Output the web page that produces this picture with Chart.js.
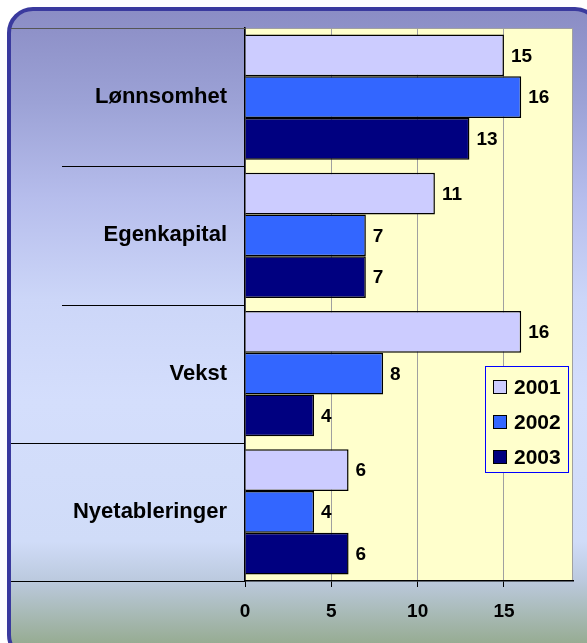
<!DOCTYPE html>
<html>
<head>
<meta charset="utf-8">
<script src="https://cdn.jsdelivr.net/npm/chart.js@4"></script>
<style>
  html, body { margin: 0; padding: 0; background: #fff; }
  #wrap { width: 587px; height: 643px; }
</style>
</head>
<body>
<div id="wrap"><canvas id="myChart" width="587" height="643"></canvas></div>
<script>
const categories = ['Lønnsomhet', 'Egenkapital', 'Vekst', 'Nyetableringer'];
const years = ['2001', '2002', '2003'];
const values2001 = [15, 11, 16, 6];
const values2002 = [16, 7, 8, 4];
const values2003 = [13, 7, 4, 6];
const xTicks = [0, 5, 10, 15];
const colors = ['#ccccff', '#3366ff', '#000080'];

const FONT = '"Liberation Sans", Arial, sans-serif';

// frame, gradient background and yellow plot area
const backdrop = {
    id: 'backdrop',
    beforeDraw(chart) {
        const c = chart.ctx;
        const a = chart.chartArea;
        c.save();
        const g = c.createLinearGradient(0, 7, 0, 643);
        g.addColorStop(0.0, '#8a8cc4');
        g.addColorStop(0.15, '#9ca2d6');
        g.addColorStop(0.30, '#b6bdec');
        g.addColorStop(0.46, '#ccd6f8');
        g.addColorStop(0.62, '#d4defc');
        g.addColorStop(0.84, '#d0dcf8');
        g.addColorStop(0.90, '#bccadf');
        g.addColorStop(1.0, '#97ac93');
        c.beginPath();
        c.roundRect(9, 9, 590, 650, 24);
        c.fillStyle = g;
        c.fill();
        c.lineWidth = 4;
        c.strokeStyle = '#3a3a9e';
        c.stroke();

        c.fillStyle = '#ffffcc';
        c.fillRect(a.left, a.top, a.right - a.left, a.bottom - a.top);
        c.strokeStyle = '#a0a0a0';
        c.lineWidth = 1;
        c.strokeRect(a.left + 0.5, a.top + 0.5, a.right - a.left - 1, a.bottom - a.top - 1);
        c.restore();
    },
    afterDraw(chart) {
        const c = chart.ctx;
        const a = chart.chartArea;
        c.save();
        // category separators in the label panel
        const n = categories.length;
        const step = (a.bottom - a.top) / n;
        for (let i = 0; i <= n; i++) {
            const py = Math.round(a.top + i * step) + 0.5;
            const x0 = (i === 1 || i === 2) ? 62 : 11;
            c.beginPath();
            c.moveTo(x0, py);
            c.lineTo(a.left, py);
            c.strokeStyle = i === 0 ? '#555555' : '#000000';
            c.lineWidth = 1;
            c.stroke();
        }
        // legend
        const lx = 485, ly = 366, lw = 84, lh = 107;
        c.fillStyle = '#ffffcc';
        c.fillRect(lx, ly, lw, lh);
        c.strokeStyle = '#0000ff';
        c.lineWidth = 1;
        c.strokeRect(lx + 0.5, ly + 0.5, lw - 1, lh - 1);
        c.font = 'bold 21px ' + FONT;
        c.textBaseline = 'middle';
        c.textAlign = 'left';
        years.forEach((yr, i) => {
            const cy = 387 + i * 35;
            c.fillStyle = colors[i];
            c.fillRect(493, cy - 7, 14, 14);
            c.strokeStyle = '#000';
            c.strokeRect(493.5, cy - 6.5, 13, 13);
            c.fillStyle = '#000';
            c.fillText(yr, 514, cy + 1);
        });
        c.restore();
    }
};

// value labels right of the bars
const valueLabels = {
    id: 'valueLabels',
    afterDatasetsDraw(chart) {
        const c = chart.ctx;
        c.save();
        c.font = 'bold 19px ' + FONT;
        c.fillStyle = '#000';
        c.textAlign = 'left';
        c.textBaseline = 'middle';
        chart.data.datasets.forEach((ds, di) => {
            chart.getDatasetMeta(di).data.forEach((bar, i) => {
                c.fillText(String(ds.data[i]), bar.x + 7, bar.y + 1);
            });
        });
        c.restore();
    }
};

const ctx = document.getElementById('myChart').getContext('2d');
const myChart = new Chart(ctx, {
    type: 'bar',
    data: {
        labels: categories,
        datasets: [
            { label: years[0], data: values2001, backgroundColor: colors[0] },
            { label: years[1], data: values2002, backgroundColor: colors[1] },
            { label: years[2], data: values2003, backgroundColor: colors[2] }
        ].map(d => Object.assign(d, {
            borderColor: '#000000',
            borderWidth: 1.5,
            categoryPercentage: 0.906,
            barPercentage: 1.0
        }))
    },
    options: {
        indexAxis: 'y',
        responsive: false,
        animation: false,
        layout: { padding: { top: 28, right: 14, left: 0, bottom: 0 } },
        plugins: {
            legend: { display: false },
            tooltip: { enabled: false }
        },
        scales: {
            x: {
                min: 0,
                max: 19,
                afterBuildTicks: s => { s.ticks = xTicks.map(v => ({ value: v })); },
                afterFit: s => { s.height = 62; s.paddingLeft = 0; s.paddingRight = 0; },
                grid: {
                    color: '#a0a0a0',
                    tickColor: '#000000',
                    tickLength: 6,
                    lineWidth: 1
                },
                border: { display: true, color: '#000000', width: 1.5 },
                ticks: {
                    color: '#000',
                    padding: 13,
                    font: { family: FONT, size: 19, weight: 'bold' }
                }
            },
            y: {
                afterFit: s => { s.width = 245; s.paddingTop = 0; s.paddingBottom = 0; },
                grid: { display: false, drawTicks: false },
                border: { display: true, color: '#000000', width: 1.5 },
                ticks: {
                    color: '#000',
                    padding: 18,
                    font: { family: FONT, size: 22, weight: 'bold' }
                }
            }
        }
    },
    plugins: [backdrop, valueLabels]
});
</script>
</body>
</html>
